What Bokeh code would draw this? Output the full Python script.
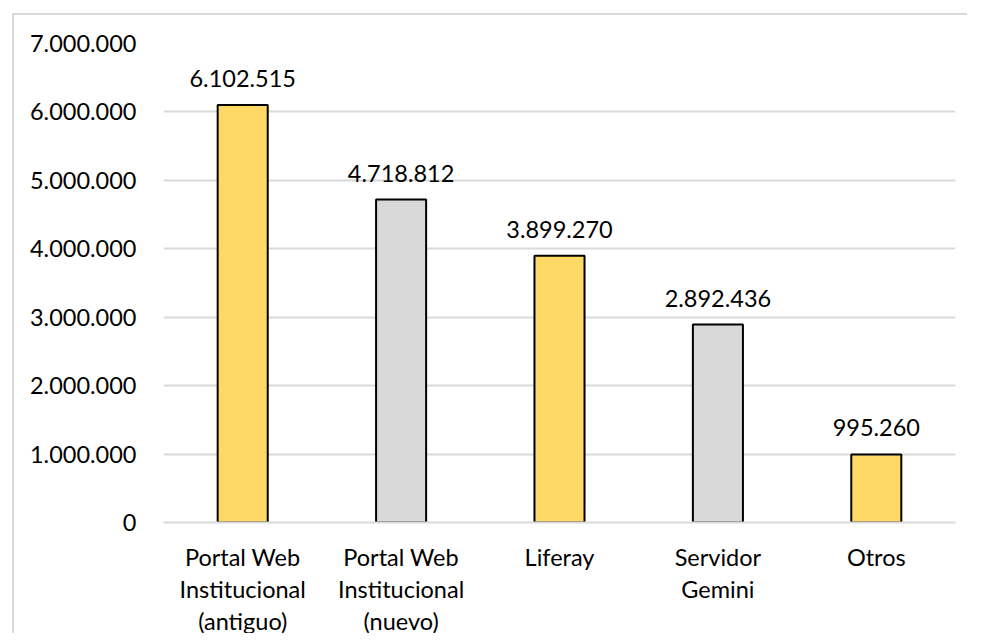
from bokeh.plotting import figure
from bokeh.models import ColumnDataSource, FixedTicker, LinearAxis
from bokeh.embed import file_html
from bokeh.resources import INLINE
from bokeh.core.properties import value

categories = ["Portal Web Institucional (antiguo)", "Portal Web Institucional (nuevo)",
              "Liferay", "Servidor Gemini", "Otros"]
category_lines = [["Portal Web", "Institucional", "(antiguo)"],
                  ["Portal Web", "Institucional", "(nuevo)"],
                  ["Liferay"],
                  ["Servidor", "Gemini"],
                  ["Otros"]]
values = [6102515, 4718812, 3899270, 2892436, 995260]
colors = ["#FFD966", "#D9D9D9", "#FFD966", "#D9D9D9", "#FFD966"]
y_ticks = [0, 1000000, 2000000, 3000000, 4000000, 5000000, 6000000, 7000000]
y_tick_labels = ["0", "1.000.000", "2.000.000", "3.000.000", "4.000.000",
                 "5.000.000", "6.000.000", "7.000.000"]

def fmt(v):
    return f"{v:,}".replace(",", ".")

pos = list(range(len(categories)))
src = ColumnDataSource(dict(x=pos, cat=categories, val=values, color=colors,
                            lab=[fmt(v) for v in values]))

FONT = "Lato"
FS = "23.5px"

p = figure(x_range=(-0.5, len(categories) - 0.5), y_range=(0, 7000000),
           width=961, height=623, output_backend="svg", toolbar_location=None,
           min_border_left=149, min_border_right=20, min_border_top=28, min_border_bottom=116,
           styles={"margin-left": "12px", "margin-top": "13px",
                   "border-left": "2px solid #D9D9D9", "border-top": "2px solid #D9D9D9",
                   "clip-path": "inset(0px 6px 3px 0px)"})
p.outline_line_color = None
p.background_fill_color = "white"
p.border_fill_color = "white"

p.vbar(x="x", top="val", width=0.316, source=src, fill_color="color",
       line_color="black", line_width=2)
p.text(x="x", y="val", text="lab", source=src, y_offset=-18,
       text_align="center", text_baseline="bottom",
       text_font=value(FONT), text_font_size=FS, text_color="black")

p.xgrid.grid_line_color = None
p.ygrid.grid_line_color = "#D9D9D9"
p.ygrid.grid_line_width = 2
p.ygrid.ticker = FixedTicker(ticks=y_ticks)

p.yaxis.ticker = FixedTicker(ticks=y_ticks)
p.yaxis.major_label_overrides = {t: l for t, l in zip(y_ticks, y_tick_labels)}
p.yaxis.axis_line_color = None
p.yaxis.major_tick_line_color = None
p.yaxis.minor_tick_line_color = None
p.yaxis.major_label_standoff = 21
p.yaxis.major_label_text_font = FONT
p.yaxis.major_label_text_font_size = FS
p.yaxis.major_label_text_color = "black"

# category labels: first line on the main x axis, further lines on stacked axes
def line_overrides(i):
    return {k: (lines[i] if len(lines) > i else "") for k, lines in zip(pos, category_lines)}

def style_axis(ax, standoff):
    ax.ticker = FixedTicker(ticks=pos)
    ax.major_tick_line_color = None
    ax.minor_tick_line_color = None
    ax.major_tick_out = 0
    ax.major_tick_in = 0
    ax.minor_tick_out = 0
    ax.major_label_standoff = standoff
    ax.major_label_text_font = FONT
    ax.major_label_text_font_size = FS
    ax.major_label_text_color = "black"

xa = p.xaxis[0]
xa.axis_line_color = "#D9D9D9"
xa.axis_line_width = 2
xa.major_label_overrides = line_overrides(0)
style_axis(xa, 20)

for i in (1, 2):
    ax = LinearAxis(major_label_overrides=line_overrides(i))
    ax.axis_line_color = None
    style_axis(ax, 1)
    p.add_layout(ax, "below")

open("out.html", "w").write(file_html(p, INLINE))
